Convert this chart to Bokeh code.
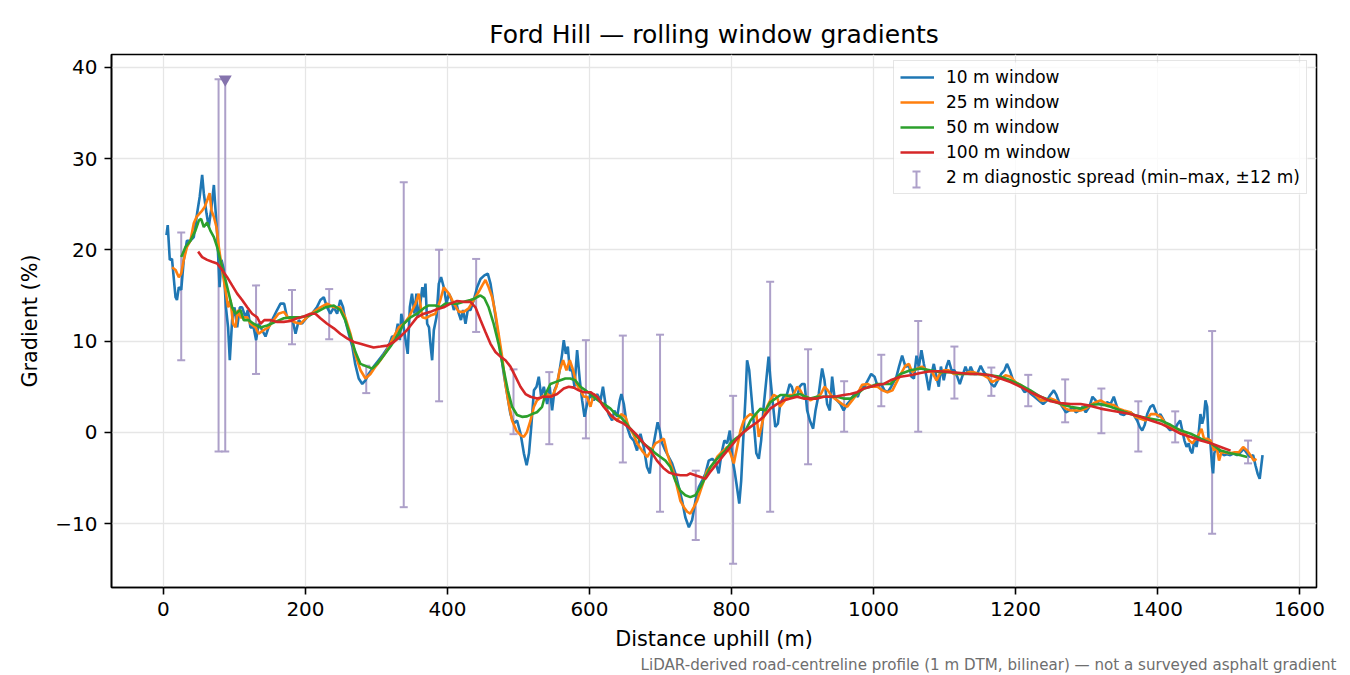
from bokeh.plotting import figure
from bokeh.models import (Range1d, FixedTicker, Legend, LegendItem, Title,
                          BoxAnnotation, ColumnDataSource)
from bokeh.embed import file_html
from bokeh.resources import INLINE

FONT = "DejaVu Sans"

# rolling window gradients: (distance m, gradient %)
win10 = [(4.2,21.6),(6,22.7),(8.9,18.9),(12,19),(17,14.8),(19,14.5),(21.6,15.9),(25,15.6),(28.6,18.9),(33,21),
    (38,21),(42.7,21.4),(47.4,24),(51,25.8),(54.5,28.2),(56.8,26.2),(60.6,24),(63.8,22.5),(67,24.3),(71,27.1),
    (73,24.7),(75.6,21.8),(79,15.9),(81.7,18.9),(85,17.8),(88,13.7),(91,11.5),(93.4,7.9),(96.7,12.3),(100,13.7),
    (103.8,11.5),(107.5,13.7),(110.8,13.7),(115.5,12.6),(118.8,13.4),(122.5,11.5),(127,11.5),(130.5,10.1),(134,11.9),
    (139,11.2),(143.7,10.5),(148,11.5),(153,12.3),(160,13.4),(164.8,14.1),(170,14.1),(174,12.6),(181,12.6),(186,10.8),
    (190.6,12.3),(195,11.9),(202,12.6),(209,13),(216,13.7),(221,14.5),(225.8,14.8),(230.5,13.7),(235,13),(240,13.7),
    (244.6,13),(249,14.5),(253,13.7),(256,12.3),(261,10.8),(266,9.4),(270,7.5),(275,5.9),(280,5.3),(284.5,5.7),
    (289,6.4),(296,7.2),(303,7.9),(310,8.6),(317,9.4),(322,10.5),(326.8,10.5),(330,11.9),(333,10.1),(335,13),
    (337.6,11.9),(341,10.1),(344,8.6),(347,13.7),(350,15.2),(353.5,13),(356.3,15.2),(358,12.6),(361,13.7),(364.6,15.9),
    (367,14.8),(369,16.3),(371.4,11.9),(374,11.5),(376,9.7),(378.4,7.9),(380.8,11.2),(384.5,12.6),(387.8,16.3),(391,17),
    (394.8,15.9),(398.6,14.1),(401.9,15.2),(405,14.7),(409,13.4),(412.7,14.1),(416,13),(419,12.3),(422,13.4),(425.4,11.9),
    (428.6,13.4),(432.4,13.4),(437,14.5),(441.8,15.9),(446.5,16.8),(452,17.2),(456.8,17.4),(460.6,16.3),(465,14.1),
    (469.9,11.5),(474.6,9),(479.3,6.4),(484,4.2),(488.7,2),(493.4,0.95),(498,1.3),(503,-0.15),(507.6,-2.3),(511.5,-3.6),
    (514.8,-2.3),(518,0.6),(521.8,4.6),(525.4,5),(528.6,6.1),(532,3.9),(535.7,5),(540.4,3.1),(544,5),(547.4,2.4),
    (550.7,4.6),(554.5,5.3),(558,6.8),(561.5,8.6),(563.8,10.1),(566.7,8.6),(569.5,9.4),(572.3,6.8),(575.6,6.8),(578.9,5),
    (582.6,9),(586.4,5.7),(589.7,3.5),(593,1.7),(596.7,3.1),(601.4,4.2),(606,3.5),(610.8,4.2),(615.5,3.5),(619,5),
    (622.5,3.1),(627,2),(631.9,1.3),(635,2.4),(639,1.7),(642.7,3.5),(645,4.2),(648.4,3.1),(653,0.6),(657.7,-0.5),
    (662.4,-0.9),(667,-2),(671.8,-0.15),(676.5,-1.6),(681,-3.8),(685,-4.5),(688,-2.3),(693,-0.15),(696,1.1),(699,0.2),
    (702.4,-1.2),(707,-2),(711.7,-2.7),(716.4,-3.4),(721,-4.5),(725.8,-6),(730.5,-7.5),(735,-9.3),(740,-10.4),(744.6,-9.6),
    (749.3,-7.5),(754,-6),(758.7,-5.3),(763.4,-4.5),(768,-3.1),(772.8,-2.9),(777.5,-3.25),(782,-4.5),(786,-2.3),(790,-0.9),
    (794,-1.2),(797.7,0.2),(801,-2.7),(804.3,-4.2),(807,-5.6),(811,-7.8),(813.7,-5.3),(816.5,-0.9),(819.8,3.9),(822,7.9),
    (825,6.8),(828.2,3.9),(831.5,0.95),(835,-2.3),(838.5,-2.9),(841.8,-0.9),(845.3,2.8),(849,5.7),(852.3,8.3),(854.6,6.1),
    (858.4,3.1),(861.7,0.6),(865.4,0.95),(868.5,3.1),(873.4,3.9),(878,4.1),(882,5.3),(885,5),(888.6,3.9),(892.5,3.9),
    (896,5),(899.6,5.3),(903,5.3),(906.6,2.4),(910.4,1.3),(915,0.4),(918.4,2.4),(922.9,4.2),(927.7,7),(931,5.7),
    (934.8,3.1),(938.5,2.4),(941.8,6.1),(945,3.9),(948.8,3.5),(953.5,3.1),(958,2.4),(963,3.1),(967.6,3.5),(973,4.2),
    (978,3.9),(982.7,5),(987.3,5),(992,5.7),(996.8,6.4),(1001.5,6.1),(1006,5),(1011,5.3),(1015.5,4.6),(1020,4.4),
    (1025,5),(1032.4,6.1),(1036,7.2),(1040.4,8.4),(1045,7.2),(1050,7.3),(1053.5,6.1),(1057,5.9),(1060.6,8.4),(1064,7.2),
    (1067.6,9),(1071,7.5),(1074.7,6.1),(1078,4.6),(1081,6.1),(1085,7.5),(1088.7,6.1),(1092,5),(1095,7.2),(1099,5.7),
    (1102.8,7.2),(1106,7.9),(1110,6.8),(1114,6.8),(1118,6.1),(1121.6,5.3),(1125,6.1),(1129.6,7.2),(1133.4,6.4),(1137,7.2),
    (1141.3,6.4),(1146,6.4),(1151,7.3),(1155.4,6.6),(1161,6.1),(1166,5.3),(1170.4,5),(1175,5.7),(1180,6.4),(1184.5,6.8),
    (1188,7.5),(1192,6.8),(1196.7,5.7),(1202,5.3),(1208,5),(1212.7,4.4),(1217.4,4.6),(1222,4.2),(1226.8,3.9),(1233,3.5),
    (1239,3.1),(1244.6,3.5),(1249,4.1),(1254,4.6),(1257.7,4.1),(1261.5,3.3),(1266,2.8),(1271,2.2),(1276,2.4),(1280.3,2.8),
    (1285,2.2),(1290,2.4),(1294.6,2.8),(1299,2.2),(1304,2.8),(1308.5,3.9),(1313,3.5),(1318,3.1),(1324,3),(1329,3.3),
    (1334,3.1),(1338.5,3.9),(1343,2.8),(1348,2),(1352.7,1.9),(1357.5,2.2),(1362,2.2),(1366.7,1.9),(1371.4,1.3),(1375,0.6),
    (1378.5,0.2),(1382,0.8),(1385.6,2),(1390,2.8),(1394,3),(1397,2.4),(1400.5,1.7),(1404,2),(1409,1.3),(1413.6,0.6),
    (1418,0.2),(1422,0.6),(1425,0.4),(1428.6,0.95),(1432,1.3),(1435,0.2),(1438,-0.9),(1441,-1.6),(1444,-1.2),(1446.5,-2),
    (1449,-2.3),(1452,-0.9),(1455,-1.6),(1458,-0.15),(1460.5,2),(1463,0.95),(1465.4,1.7),(1467.6,3.5),(1470,2.8),(1472,-0.9),
    (1474.6,-1.2),(1477,-3.8),(1478.4,-4.5),(1480,-2.3),(1483,-1.6),(1486,-2),(1489.5,-2.2),(1493.4,-2.5),(1498,-2.4),
    (1502.6,-2.5),(1507.4,-2.3),(1512,-2.5),(1516.9,-2.2),(1521.6,-1.8),(1526,-2.3),(1531,-2.7),(1534.7,-2.5),(1538,-3.6),
    (1541,-4.5),(1544,-5.1),(1546,-3.8),(1548,-2.5)]

win25 = [(12.2,18.1),(17,17.8),(21.6,17),(25,17.4),(28.6,18.9),(33,20.3),(38,21),(42.7,22.9),(46.5,23.6),(51,24),
    (54.5,24.3),(58,24.7),(61.5,25.4),(65,26.2),(67.6,24.3),(71,23.6),(74.6,22.5),(78,20.3),(82.6,17.8),(87.3,15.6),
    (91,13.7),(94.4,14.5),(98,11.9),(101.4,11.5),(104.7,13.4),(108.5,12.6),(113,12.6),(118,12.6),(122.5,11.9),(129.6,11.5),
    (134,10.8),(141,11.2),(148,11.5),(155,12.3),(162,13),(169.5,13.2),(176.5,12.5),(183.6,12.1),(193,11.9),(202,12.6),
    (211.7,13.2),(221,13.7),(230.5,14.1),(240,13.7),(249,13.7),(256,12.6),(263.4,10.8),(270,8.6),(277.5,6.8),(284.5,5.9),
    (291.5,6.4),(298.6,7.2),(305.6,7.9),(315,9),(324.4,10.5),(331.5,11.5),(338.5,11.9),(345.5,12.6),(355,14.1),(359.6,15.2),
    (364.6,12.6),(369,12.5),(376,12.8),(383,13),(390,14.5),(394.8,15.9),(401.9,15.2),(409,14.1),(416,13.2),(423,13.2),
    (430,13.6),(437,14.5),(444,15.4),(449,16.1),(453.5,16.7),(458,15.9),(463,14.8),(467.6,13),(472,10.8),(477,8.3),
    (481.7,5.3),(486.4,3.1),(491,1.3),(497,0.2),(503,-0.3),(507.6,-0.5),(512,0.04),(517,1.3),(521.8,2.8),(526,3.5),
    (533.3,3.9),(540.4,4.2),(547.4,3.9),(553.5,5),(558,6.8),(562.9,7.9),(567.6,6.8),(572.3,7.9),(577,6.8),(581.7,5.3),
    (587.3,4.6),(592,3.9),(596.7,3.9),(601.4,2.8),(606,4.2),(610.8,3.9),(617.8,3.1),(624.9,2.4),(631.9,1.7),(639,1.3),
    (644.6,2),(650.7,1.7),(655.4,0.6),(661.5,-0.15),(667,-1.2),(674,-2),(681.2,-2.7),(686.8,-2),(693,-1.2),(700,-0.9),
    (704.7,-0.7),(709.4,-2.3),(714,-3.4),(718.8,-4.5),(723.5,-6),(728,-7.5),(733,-8.2),(737.6,-8.7),(742,-8.9),(747,-8.2),
    (751.6,-7.5),(756.3,-6.4),(761,-5.3),(765.7,-4.2),(770.4,-3.8),(775,-3.4),(779.8,-2.7),(784.5,-2.3),(789,-2),(794,-1.6),
    (798.6,-2.3),(803.3,-3.4),(808,-1.6),(812.7,0.2),(817.4,1.3),(822,1.7),(826.8,2),(831.5,1.7),(835,2),(838.5,-0.5),
    (842,0.6),(845.3,1.7),(850,2.8),(854.6,3.5),(859.4,4.1),(864,3.9),(868.5,2.8),(873.4,3.3),(878,3.9),(882.6,4.1),
    (887.3,4.1),(892.5,5),(897,4.6),(901.7,3.9),(906.6,3.9),(911,3.5),(916,3.7),(920.6,3.9),(926,4.2),(931,5),
    (935.7,4.6),(941.8,3.9),(948.8,3.5),(955.9,3.1),(963,2.8),(970,3.5),(977,4.2),(984,5.2),(991.5,5.3),(998.6,5),
    (1005.6,5),(1012.7,4.6),(1019.7,4.4),(1026.8,4.6),(1033.8,5.7),(1040,6.6),(1045,7.3),(1050,7.5),(1054.5,6.6),(1061.5,7),
    (1068.5,7.2),(1075.5,6.8),(1082.7,6.6),(1088.7,5.7),(1093.4,6.4),(1099,6.8),(1106,6.8),(1113,6.4),(1120,6.4),(1127,6.4),
    (1134,6.6),(1141.3,6.6),(1148.4,6.4),(1155.4,6.25),(1162.5,5.9),(1167,5.5),(1172,5.7),(1179,5.9),(1186,6.25),(1193,6.1),
    (1200,5.5),(1207,5.2),(1214,4.8),(1221,4.4),(1228,4.1),(1235.5,3.5),(1242.5,3.5),(1249.6,3.7),(1256.6,3.5),(1263.7,3.1),
    (1270.7,2.6),(1277.7,2.4),(1284.8,2.4),(1291.8,2.4),(1299,2.6),(1306,3),(1313,3.3),(1319.7,3.5),(1329,3.1),(1338.5,3),
    (1345.5,2.6),(1352.7,2.4),(1362,2.2),(1369,1.7),(1376.4,1.5),(1383.5,1.3),(1390.6,2),(1397.6,2),(1404.7,1.7),(1411.7,0.95),
    (1418.8,0.6),(1425.8,0.4),(1432.9,0.2),(1440,-0.15),(1444.6,-0.9),(1449.3,-1.2),(1454,-0.7),(1458.7,-0.15),(1462,0.4),
    (1465.5,-0.7),(1470,-0.7),(1475,-0.9),(1479.6,-2),(1483.4,-1.6),(1486.7,-3.1),(1490,-2.2),(1494.4,-2.2),(1500.5,-2.3),
    (1507.5,-2.2),(1514.6,-2.2),(1520.7,-1.6),(1526.3,-2),(1531,-2.5),(1535.7,-3.1),(1539.5,-2.9)]

win50 = [(25,19.2),(31,20.3),(38,21),(45,22.1),(49.8,23.2),(53,23.4),(56.8,22.5),(61.5,23),(66,22.1),(71,21.4),
    (75.6,20.3),(80,18.9),(87.3,16.7),(92,15.2),(96.7,13.7),(101.4,13),(108.5,13.4),(113,12.3),(120,12.3),(127,11.9),
    (136.6,11.5),(146,11.7),(157.7,12.1),(169.5,12.5),(181,12.6),(193,12.6),(204.7,12.8),(216.4,13.2),(228,13.7),(240,13.9),
    (249,13.4),(256,12.3),(263.4,10.5),(270.4,8.8),(277.5,7.5),(287,7.2),(294,7),(301,7.5),(310,8.4),(319.7,9.4),
    (329,10.5),(338.5,11.9),(348,12.6),(357,13),(366.7,13.6),(373.7,13.9),(383,13.9),(390,13.7),(397,14.1),(404.2,14.1),
    (413.6,14.1),(423,14.3),(432.4,14.5),(439.4,14.7),(446.5,15),(452,14.7),(458,13.7),(465,11.9),(472,9.7),(479.3,6.8),
    (485,4.6),(491,2.8),(498,1.9),(505,1.7),(512,1.75),(519,2),(526,2.2),(533.3,2.8),(538,4.2),(545,5.3),
    (552,5.5),(559,5.7),(566,5.9),(573,5.9),(580,5.7),(587.3,5),(594.4,4.6),(601.4,4.2),(608.5,3.7),(615.5,3.3),
    (622.5,3),(629.6,2.6),(636.6,2),(643.7,1.7),(650.7,1.1),(657.7,0.4),(664.8,-0.3),(671.8,-0.9),(678.9,-1.4),(686,-1.8),
    (693,-2.3),(700,-2.7),(707,-3.1),(714,-3.8),(721,-5.3),(728,-6.4),(735,-6.9),(742,-7.1),(749,-6.9),(756.3,-6),
    (763.4,-4.9),(770.4,-3.8),(777.5,-3.1),(784.5,-2.5),(791.5,-2),(798.6,-1.2),(805.6,-0.7),(812.7,-0.3),(819.8,0.2),(826.8,1.3),
    (834,2),(841,2.6),(848,2.4),(854.6,3.3),(862,3.7),(869,4.1),(876,4.1),(883,3.9),(890,4.1),(897,4.2),
    (904,3.9),(911,3.7),(920.6,3.9),(930,3.9),(939,3.9),(948.8,3.9),(958,3.7),(967.6,3.7),(977,4.2),(986.4,4.8),
    (995.8,5),(1005,5.3),(1014.6,5.3),(1024,5.3),(1038,6.4),(1052,6.8),(1066,7),(1080,6.8),(1094.4,6.6),(1108.5,6.6),
    (1122.5,6.4),(1136.6,6.4),(1150.7,6.4),(1165,6.25),(1179,6.1),(1193,5.7),(1207,5.2),(1221,4.6),(1235.5,3.9),(1249.6,3.5),
    (1263.7,3.1),(1277.7,2.8),(1291.8,2.6),(1306,3),(1319.7,3.1),(1334,2.8),(1348,2.4),(1362,2),(1376.4,1.7),(1390.6,1.5),
    (1404.7,1.3),(1418.8,0.8),(1432.9,0.2),(1447,-0.15),(1461,-0.7),(1475,-1.2),(1489,-2),(1503,-2.3),(1517,-2.5),(1526.3,-2.7)]

win100 = [(48.8,19.8),(54.5,19.2),(61.5,18.9),(68.5,18.7),(75.6,18.5),(82.6,17.8),(89.7,17),(96.7,16.1),(103.8,15.2),
    (110.8,14.5),(118,13.7),(124.9,13),(132,12.6),(136.6,11.9),(142,12.3),(150.7,12.3),(160,12.1),(169.5,12.1),(179,12.2),
    (188,12.5),(197.7,12.7),(207,13),(214,13),(221,12.5),(230.5,11.9),(240,11.4),(249,10.8),(258.7,10.3),(268,9.9),
    (277.5,9.7),(287,9.5),(296,9.3),(305.6,9.4),(315,9.5),(324.4,9.9),(333.8,10.5),(343,11.2),(348,11.7),(357,12.6),
    (366.7,13),(376,13.2),(385.4,13.5),(394.8,13.7),(404.2,14.1),(413.6,14.4),(423,14.3),(432.4,14.3),(439.4,13.7),(446.5,12.3),
    (453.5,11),(460.6,9.7),(467.6,8.8),(474.6,8.3),(481.7,7.9),(488.7,7.2),(495.8,6.1),(502.8,5),(509.9,4.2),(516.9,3.9),
    (526.3,3.7),(535.7,3.9),(545,3.9),(554.5,4.2),(563.8,4.8),(570.9,5),(578,4.9),(585,4.6),(592,4.4),(601.4,4.4),
    (610.8,3.9),(620,2.8),(629.6,1.9),(639,1.3),(648.4,0.95),(657.7,0.4),(667,-0.3),(676.5,-1.2),(686,-2),(695,-3.1),
    (704,-3.9),(712,-4.4),(720,-4.6),(728,-4.7),(737.6,-4.7),(742,-4.5),(749,-4.7),(756.3,-4.9),(763.4,-5.1),(770.4,-4.3),
    (779.8,-3.4),(789,-2.5),(798.6,-1.6),(808,-0.7),(817.4,0.04),(826.8,0.6),(836,1.1),(845.3,1.7),(854.6,2.6),(864,3.1),
    (873.4,3.5),(883,3.7),(892.5,3.9),(901.7,3.7),(911,3.7),(920.6,3.7),(930,3.9),(939,3.9),(948.8,3.95),(958,4.1),
    (967.6,4.2),(977,4.4),(986.4,4.8),(995.8,5),(1005,5.2),(1014.6,5.3),(1024,5.7),(1038,6.1),(1052,6.25),(1066,6.5),
    (1080,6.7),(1094.4,6.7),(1108.5,6.6),(1122.5,6.5),(1136.6,6.4),(1150.7,6.4),(1165,6.25),(1179,5.9),(1193,5.5),(1207,5),
    (1221,4.4),(1235.5,3.9),(1249.6,3.4),(1263.7,3.2),(1277.7,3.1),(1291.8,3.1),(1306,2.9),(1319.7,2.6),(1334,2.4),(1348,2.2),
    (1362,2),(1376.4,1.7),(1390.6,1.3),(1404.7,0.95),(1418.8,0.4),(1432.9,-0.15),(1447,-0.5),(1461,-0.9),(1475,-1.2),
    (1489,-1.6),(1503,-2)]

# 2 m diagnostic spread (min / max within +-12 m)
spread_x = [25, 77.6, 87, 130.4, 181, 233.4, 285.6, 338.4, 388.2, 440.4, 493, 543.4, 595, 647, 699.4, 749.7,
            802.3, 854.5, 907.9, 958.7, 1011, 1063, 1114, 1166, 1218, 1270, 1321, 1373, 1425, 1477, 1527.6]
spread_lo = [7.9, -2.1, -2.1, 6.4, 9.65, 10.2, 4.3, -8.2, 3.4, 11.0, -0.2, -1.3, -0.66, -3.3, -8.7, -11.8,
             -14.4, -8.7, -3.5, 0.07, 2.86, 0.07, 3.7, 4.0, 2.86, 1.1, -0.1, -2.1, -1.1, -11.1, -3.4]
spread_hi = [21.9, 38.7, 38.7, 16.1, 15.6, 15.7, 7.3, 27.4, 20.0, 19.0, 6.9, 6.6, 10.1, 10.6, 10.7, -4.2,
             4.0, 16.5, 9.1, 5.6, 8.5, 12.2, 9.4, 7.1, 6.3, 5.8, 4.8, 3.4, 2.3, 11.1, -0.9]
spread_clipped = [False, False, True] + [False] * 28

x_ticks = [0, 200, 400, 600, 800, 1000, 1200, 1400, 1600]
y_ticks = [-10, 0, 10, 20, 30, 40]

series = [("10 m window", win10, "#1f77b4"),
          ("25 m window", win25, "#ff7f0e"),
          ("50 m window", win50, "#2ca02c"),
          ("100 m window", win100, "#d62728")]

SPREAD = "#ada0c9"
SPREAD_DARK = "#8573ad"

p = figure(frame_width=1205, frame_height=533,
           x_range=Range1d(-73.2, 1624), y_range=Range1d(-17.0, 41.4),
           output_backend="svg", toolbar_location=None,
           min_border_left=111, min_border_right=30, min_border_top=54, min_border_bottom=84,
           title="Ford Hill \u2014 rolling window gradients",
           x_axis_label="Distance uphill (m)", y_axis_label="Gradient (%)")

p.title.align = "center"
p.title.text_font = FONT
p.title.text_font_size = "25px"
p.title.text_font_style = "normal"
p.title.text_color = "black"
p.title.standoff = 11

for ax in (p.xaxis[0], p.yaxis[0]):
    ax.axis_label_text_font = FONT
    ax.axis_label_text_font_size = "20.8px"
    ax.axis_label_text_font_style = "normal"
    ax.axis_label_text_color = "black"
    ax.major_label_text_font = FONT
    ax.major_label_text_font_size = "20px"
    ax.major_label_text_color = "black"
    ax.axis_line_width = 1.6
    ax.axis_line_color = "black"
    ax.major_tick_line_width = 1.6
    ax.major_tick_line_color = "black"
    ax.major_tick_out = 7
    ax.major_tick_in = 0
    ax.minor_tick_line_color = None
    ax.major_label_standoff = 7
    ax.axis_label_standoff = 8

p.xaxis.ticker = FixedTicker(ticks=x_ticks)
p.yaxis.ticker = FixedTicker(ticks=y_ticks)
p.yaxis.major_label_overrides = {t: ("\u2212" + str(-t) if t < 0 else str(t)) for t in y_ticks}
p.yaxis.axis_label_standoff = 10

p.grid.grid_line_color = "#e6e6e6"
p.grid.grid_line_width = 1.3
p.outline_line_color = "black"
p.outline_line_width = 1.6
p.background_fill_color = "white"


def sbox(l, r, b, t, color, alpha=1.0, level="annotation"):
    # box in frame screen units (pixels from the frame's bottom-left corner)
    return BoxAnnotation(left=l, right=r, bottom=b, top=t,
                         left_units="screen", right_units="screen",
                         bottom_units="screen", top_units="screen",
                         fill_color=color, fill_alpha=alpha, line_color=None, level=level)

# legend background (semi-transparent, hides the grid like a framed legend)
p.add_layout(sbox(782, 1196, 393, 525, "white", 0.8, level="underlay"))

# error bars
bars = ColumnDataSource(dict(x=spread_x, lo=spread_lo, hi=spread_hi))
p.segment(x0="x", y0="lo", x1="x", y1="hi", source=bars, line_color=SPREAD, line_width=2)
cap_x = spread_x + [x for x, c in zip(spread_x, spread_clipped) if not c]
cap_y = spread_lo + [h for h, c in zip(spread_hi, spread_clipped) if not c]
p.scatter(cap_x, cap_y, marker="dash", size=8, line_color=SPREAD, line_width=2)

renderers = []
for label, pts, color in series:
    xs = [a for a, b in pts]
    ys = [b for a, b in pts]
    renderers.append(p.line(xs, ys, line_color=color, line_width=2.6))

clip_x = [x for x, c in zip(spread_x, spread_clipped) if c]
clip_y = [h for h, c in zip(spread_hi, spread_clipped) if c]
p.scatter(clip_x, clip_y, marker="inverted_triangle", size=13, fill_color=SPREAD_DARK,
          line_color=None)

spread_dummy = p.scatter(x=[], y=[], marker="dash", size=1, alpha=0)

# I-shaped legend mark for the spread entry
p.add_layout(sbox(804, 806, 400, 416, SPREAD))
p.add_layout(sbox(801, 809, 399, 401, SPREAD))
p.add_layout(sbox(801, 809, 415, 417, SPREAD))

items = [LegendItem(label=lab, renderers=[r]) for (lab, _, _), r in zip(series, renderers)]
items.append(LegendItem(label="2 m diagnostic spread (min\u2013max, \u00b112 m)", renderers=[spread_dummy]))
legend = Legend(items=items, location=(782, 393),
                label_text_font=FONT, label_text_font_size="17px", label_text_color="black",
                glyph_width=34, glyph_height=20, label_height=20, label_standoff=12,
                spacing=5, padding=6, margin=0,
                border_line_color="#cccccc", border_line_width=1.2,
                background_fill_alpha=0)
p.add_layout(legend)

caption = Title(text="LiDAR-derived road-centreline profile (1 m DTM, bilinear) \u2014 not a surveyed asphalt gradient",
                align="right", offset=-20, standoff=0, text_font=FONT, text_font_size="15.1px",
                text_font_style="normal", text_color="#6e6e6e")
p.add_layout(caption, "below")

open("out.html", "w").write(file_html(p, INLINE))
